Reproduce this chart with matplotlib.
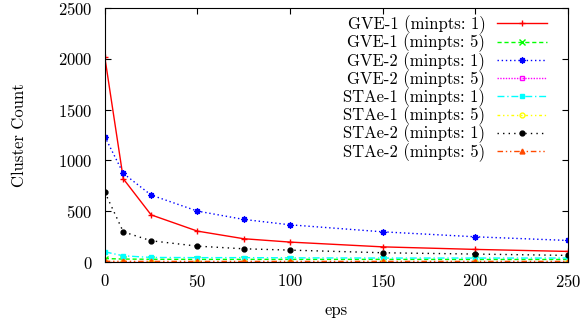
import matplotlib
matplotlib.use('Agg')
import matplotlib.pyplot as plt

plt.rcParams['font.family'] = 'serif'
plt.rcParams['font.serif'] = ['cmr10', 'DejaVu Serif']
plt.rcParams['axes.formatter.use_mathtext'] = True
plt.rcParams['mathtext.fontset'] = 'cm'

eps = [0, 10, 25, 50, 75, 100, 150, 200, 250]

gve1_m1 = [2020, 820, 465, 305, 230, 197, 150, 125, 105]
gve1_m5 = [35, 30, 28, 27, 27, 27, 27, 26, 26]
gve2_m1 = [1235, 873, 660, 502, 420, 367, 298, 249, 213]
gve2_m5 = [3, 3, 3, 3, 3, 3, 3, 3, 3]
stae1_m1 = [101, 62, 46, 44, 44, 42, 40, 40, 40]
stae1_m5 = [0, 0, 0, 0, 0, 0, 0, 0, 0]
stae2_m1 = [689, 298, 210, 157, 131, 118, 92, 79, 66]
stae2_m5 = [8, 7, 7, 7, 7, 7, 7, 7, 7]

series = [
    ('GVE-1 (minpts: 1)', gve1_m1, '#ff0000', '-', '+', 'full'),
    ('GVE-1 (minpts: 5)', gve1_m5, '#00ff00', (0, (3, 2)), 'x', 'full'),
    ('GVE-2 (minpts: 1)', gve2_m1, '#0000ff', (0, (1, 2)), (8, 2, 0), 'full'),
    ('GVE-2 (minpts: 5)', gve2_m5, '#ff00ff', (0, (1, 1)), 's', 'none'),
    ('STAe-1 (minpts: 1)', stae1_m1, '#00ffff', (0, (5, 2, 1, 2)), 's', 'full'),
    ('STAe-1 (minpts: 5)', stae1_m5, '#ffff00', (0, (2, 2, 1, 2, 1, 2)), 'o', 'none'),
    ('STAe-2 (minpts: 1)', stae2_m1, '#000000', (0, (1, 3)), 'o', 'full'),
    ('STAe-2 (minpts: 5)', stae2_m5, '#ff4a00', (0, (4, 2, 1, 2, 1, 2)), '^', 'full'),
]

fig = plt.figure(figsize=(5.82, 3.22), dpi=100)
ax = fig.add_axes([0.180, 0.186, 0.796, 0.789])

for lab, ys, c, ls, mk, fill in series:
    ms = 3.5 if mk in ('s', 'o', '^') else 4.5
    ax.plot(eps, ys, color=c, ls=ls, lw=1, marker=mk, ms=ms, mew=1,
            fillstyle=fill, mfc=c if fill == 'full' else 'none', label=lab)

ax.set_xlim(0, 250)
ax.set_ylim(0, 2500)
ax.set_xticks(range(0, 251, 50))
ax.set_yticks(range(0, 2501, 500))
ax.tick_params(direction='in', top=True, right=True, length=4, labelsize=12)
ax.tick_params(axis='y', pad=9)
ax.tick_params(axis='x', pad=8)
ax.set_xlabel('eps', fontsize=12, labelpad=9)
ax.set_ylabel('Cluster Count', fontsize=12, labelpad=22)

ax.legend(loc='upper right', bbox_to_anchor=(0.9546, 0.971), frameon=False,
          markerfirst=False, fontsize=12, handlelength=3.0, handletextpad=0.7,
          labelspacing=-0.03, borderaxespad=0, borderpad=0)
for t in ax.get_legend().get_texts():
    t.set_ha('right')

fig.savefig('out.png', dpi=100)
